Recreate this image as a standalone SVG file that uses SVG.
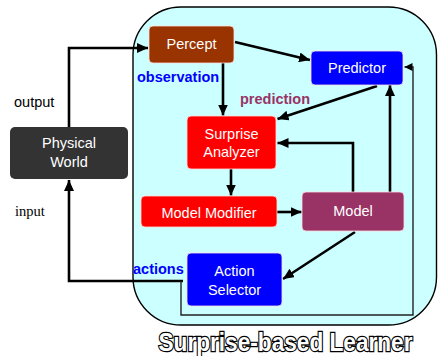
<svg xmlns="http://www.w3.org/2000/svg" width="438" height="356" viewBox="0 0 438 356">
  <style>
    .node-label { font-family: "Liberation Sans", Arial, sans-serif; font-size: 14.5px; fill: #ffffff; text-anchor: middle; }
    .flow-label { font-family: "Liberation Sans", Arial, sans-serif; font-size: 14.5px; font-weight: bold; }
    .link { fill: none; stroke: #000000; stroke-width: 2.6; marker-end: url(#arrow); }
    .link-thin { fill: none; stroke: #222222; stroke-width: 1.4; marker-end: url(#arrow-small); }
    .box { stroke: #ffdddd; stroke-width: 0.8; }
  </style>
  <defs>
    <marker id="arrow" markerUnits="userSpaceOnUse" markerWidth="11" markerHeight="10" refX="11" refY="5" orient="auto">
      <path d="M0,0 L11,5 L0,10 z" fill="#000000"/>
    </marker>
    <marker id="arrow-small" markerUnits="userSpaceOnUse" markerWidth="8" markerHeight="8" refX="8" refY="4" orient="auto">
      <path d="M0,0 L8,4 L0,8 z" fill="#000000"/>
    </marker>
  </defs>

  <rect width="438" height="356" fill="#ffffff"/>

  <!-- learner boundary -->
  <g id="learner">
    <rect x="133" y="7" width="303.5" height="318" rx="48" ry="48" fill="#ccffff" stroke="#000000" stroke-width="1.4"/>
    <text x="285.5" y="351" font-family="'Liberation Sans Narrow', 'Liberation Sans', Arial, sans-serif" font-size="25" font-weight="bold" fill="#ffffff" stroke="#000000" stroke-width="2.4" paint-order="stroke" textLength="254" lengthAdjust="spacingAndGlyphs" text-anchor="middle">Surprise-based Learner</text>
  </g>

  <!-- connectors -->
  <g id="connectors">
    <path class="link" d="M69,127 V48 H148"/>
    <path class="link" d="M183,281 H69 V180"/>
    <path class="link-thin" d="M181,281 V315 H413 V67 H404.5"/>
    <path class="link" d="M235,42 L310,60"/>
    <path class="link" d="M223,63 V115.5"/>
    <path class="link" d="M377,86 L277.5,119"/>
    <path class="link" d="M353,192 V143 H277.5"/>
    <path class="link" d="M390,192 V85"/>
    <path class="link" d="M231,169 V195.5"/>
    <path class="link" d="M277,212 H301.5"/>
    <path class="link" d="M355,232 L283,279"/>
  </g>

  <g id="physical-world">
    <rect x="10" y="127" width="118" height="52" rx="5" fill="#333333"/>
    <text class="node-label" x="69" y="148">Physical</text>
    <text class="node-label" x="69" y="167">World</text>
  </g>

  <g id="percept">
    <rect class="box" x="149" y="26" width="85" height="37" rx="4" fill="#993300"/>
    <text class="node-label" x="191.5" y="48.5">Percept</text>
  </g>

  <g id="predictor">
    <rect class="box" x="311" y="51" width="92" height="34" rx="4" fill="#0000ff"/>
    <text class="node-label" x="357" y="73">Predictor</text>
  </g>

  <g id="surprise-analyzer">
    <rect class="box" x="187" y="116" width="89" height="53" rx="4" fill="#ff0000"/>
    <text class="node-label" x="231.5" y="138.5">Surprise</text>
    <text class="node-label" x="231.5" y="156.5">Analyzer</text>
  </g>

  <g id="model-modifier">
    <rect class="box" x="141" y="196" width="136" height="31" rx="4" fill="#ff0000"/>
    <text class="node-label" x="209" y="217.5">Model Modifier</text>
  </g>

  <g id="model">
    <rect class="box" x="302" y="192" width="102" height="39" rx="4" fill="#993366"/>
    <text class="node-label" x="353" y="215.5">Model</text>
  </g>

  <g id="action-selector">
    <rect class="box" x="187" y="253" width="95" height="53" rx="4" fill="#0000ff"/>
    <text class="node-label" x="234.5" y="275.5">Action</text>
    <text class="node-label" x="234.5" y="294.5">Selector</text>
  </g>

  <!-- flow labels -->
  <g id="labels">
    <text class="flow-label" x="137" y="82" fill="#0000ff">observation</text>
    <text class="flow-label" x="240" y="104" fill="#993366">prediction</text>
    <text class="flow-label" x="133" y="274" fill="#0000ff">actions</text>
    <text x="14" y="107" font-family="'Liberation Sans', Arial, sans-serif" font-size="14.5" fill="#000000">output</text>
    <text x="15" y="216" font-family="'Liberation Serif', 'Times New Roman', serif" font-size="14.5" fill="#000000">input</text>
  </g>
</svg>
